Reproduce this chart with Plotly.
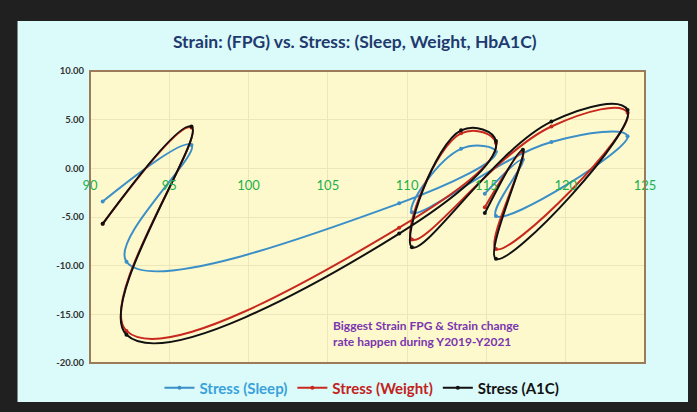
import plotly.graph_objects as go

# Strain (FPG) on x, shared by all three series
fpg = [90.8, 96.4, 92.3, 109.5, 115.6, 113.4, 110.3, 119.1, 123.9, 115.6, 117.3, 114.9]
stress_sleep = [-3.4, 2.4, -9.6, -3.6, 1.7, 2.0, -4.5, 2.7, 3.3, -4.9, 0.9, -2.6]
stress_weight = [-5.7, 4.2, -16.7, -6.1, 2.6, 3.6, -7.3, 4.3, 5.7, -8.3, 1.7, -4.0]
stress_a1c = [-5.7, 4.3, -17.1, -6.7, 2.8, 3.9, -8.1, 4.8, 6.0, -9.3, 1.9, -4.6]

series_names = ["Stress (Sleep)", "Stress (Weight)", "Stress (A1C)"]
line_colors = ["#3b8fc8", "#c8281e", "#111111"]
legend_colors = ["#39a2da", "#c3211b", "#111111"]

x_ticks = [90, 95, 100, 105, 110, 115, 120, 125]
y_ticks = [10, 5, 0, -5, -10, -15, -20]

FONT = "Lato"

fig = go.Figure()
for name, ys, lc, tc in zip(series_names, [stress_sleep, stress_weight, stress_a1c], line_colors, legend_colors):
    fig.add_trace(go.Scatter(
        x=fpg, y=ys, mode="lines+markers",
        name=f"<span style='color:{tc}'><b>{name}</b></span>",
        line=dict(color=lc, width=2, shape="spline", smoothing=1.3),
        marker=dict(color=lc, size=4),
    ))

fig.update_layout(
    width=697, height=412,
    margin=dict(l=90, r=52, t=71, b=49, autoexpand=False),
    paper_bgcolor="#202020",
    plot_bgcolor="rgba(0,0,0,0)",
    font=dict(family=FONT),
    title=dict(
        text="<b>Strain: (FPG) vs. Stress: (Sleep, Weight, HbA1C)</b>",
        font=dict(family=FONT, size=17.5, color="#1f3a6e"),
        x=0.509, xanchor="center", y=0.898, yanchor="middle",
    ),
    showlegend=True,
    legend=dict(
        orientation="h", x=0.49, xanchor="center", y=-0.086, yanchor="middle",
        font=dict(family=FONT, size=15),
        bgcolor="rgba(0,0,0,0)", itemwidth=30,
    ),
    xaxis=dict(
        range=[90, 125], tickvals=x_ticks, ticktext=[str(v) for v in x_ticks],
        showgrid=True, gridcolor="#ede6b8", gridwidth=1,
        zeroline=False, showline=False,
        anchor="free", position=2/3,
        tickfont=dict(family=FONT, size=13, color="#22b04b"),
        ticklabelstandoff=8,
    ),
    yaxis=dict(
        range=[-20, 10], tickvals=y_ticks, ticktext=[f"<b>{v:.2f}</b>" for v in y_ticks],
        showgrid=True, gridcolor="#ede6b8", gridwidth=1,
        zeroline=False, showline=False,
        tickfont=dict(family=FONT, size=9.5, color="#333333"),
        ticklabelstandoff=5,
    ),
    shapes=[
        dict(type="rect", xref="paper", yref="paper", x0=-0.1306, x1=1.0775, y0=-0.1336, y1=1.1712,
             fillcolor="#dbfafa", line=dict(width=0), layer="below"),
        dict(type="rect", xref="paper", yref="paper", x0=0, x1=1, y0=0, y1=1,
             fillcolor="#fef9cc", line=dict(width=0), layer="below"),
        dict(type="rect", xref="paper", yref="paper", x0=0, x1=1, y0=0, y1=1,
             fillcolor="rgba(0,0,0,0)", line=dict(color="#9c7c58", width=2), layer="above"),
    ],
    annotations=[
        dict(text="<b>Biggest Strain FPG & Strain change<br>rate happen during Y2019-Y2021</b>",
             x=105.2, y=-16.95, xref="x", yref="y", xanchor="left", yanchor="middle",
             align="left", showarrow=False,
             font=dict(family=FONT, size=12, color="#7a35b0")),
    ],
)

fig.write_html("out.html", config={"displayModeBar": False},
               post_script="document.body.style.margin='0';")
